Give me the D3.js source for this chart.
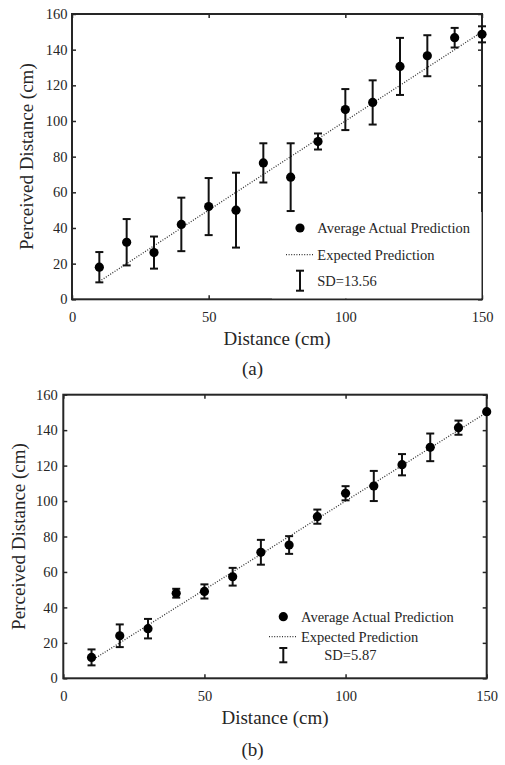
<!DOCTYPE html>
<html>
<head>
<meta charset="utf-8">
<script src="https://cdn.jsdelivr.net/npm/d3@7"></script>
<style>
  html, body { margin: 0; padding: 0; background: #fff; }
</style>
</head>
<body>
<svg id="chart" width="505" height="765"></svg>
<script>
// distances tested (cm)
const distances = [10, 20, 30, 40, 50, 60, 70, 80, 90, 100, 110, 120, 130, 140, 150];

// panel (a)
const meanA = [18, 32, 26.2, 42, 52, 50, 76.5, 68.5, 88.5, 106.4, 110.4, 130.6, 136.6, 146.7, 148.6];
const sdA = [8.5, 13, 9, 15, 16, 21, 11, 19, 4.5, 11.5, 12.4, 16, 11.5, 5.5, 4.5];

// panel (b)
const meanB = [11.8, 24, 28, 48, 49, 57.3, 71.1, 75.2, 91.2, 104.4, 108.5, 120.5, 130.3, 141.4, 150.4];
const sdB = [4.5, 6.4, 5.5, 2.5, 4, 5, 7, 5, 4, 4, 8.5, 6, 7.8, 4, 0];

// expected = perceived equals actual
const expectedX = [10, 150];

const xTicks = [0, 50, 100, 150];
const yTicks = [0, 20, 40, 60, 80, 100, 120, 140, 160];
const legendLabels = ["Average Actual Prediction", "Expected Prediction"];
const sdLabels = ["SD=13.56", "SD=5.87"];
const panelLabels = ["(a)", "(b)"];

const svg = d3.select("#chart");
const ink = "#262626";
const serif = "'Liberation Serif', 'DejaVu Serif', serif";

function txt(sel) {
  return sel.attr("font-family", serif).attr("fill", ink);
}

function drawPanel(opt) {
  const x = d3.scaleLinear().domain([0, 150]).range([opt.left, opt.right]);
  const y = d3.scaleLinear().domain([0, 160]).range([opt.bottom, opt.top]);
  const g = svg.append("g");

  // axes with inward ticks
  const axB = g.append("g").attr("transform", `translate(0,${opt.bottom})`)
    .call(d3.axisBottom(x).tickValues(xTicks).tickSize(-4).tickPadding(12));
  const axT = g.append("g").attr("transform", `translate(0,${opt.top})`)
    .call(d3.axisTop(x).tickValues(xTicks).tickSize(-4).tickFormat(""));
  const axL = g.append("g").attr("transform", `translate(${opt.left},0)`)
    .call(d3.axisLeft(y).tickValues(yTicks).tickSize(-4).tickPadding(opt.yPad));
  const axR = g.append("g").attr("transform", `translate(${opt.right},0)`)
    .call(d3.axisRight(y).tickValues(yTicks).tickSize(-4).tickFormat(""));
  [axB, axT, axL, axR].forEach(a => {
    a.attr("font-family", serif).attr("font-size", 14.5);
    a.select(".domain").remove();
    a.selectAll(".tick line").attr("stroke", ink).attr("stroke-width", 1.5);
    a.selectAll(".tick text").attr("fill", ink);
  });

  // frame
  g.append("rect")
    .attr("x", opt.left).attr("y", opt.top)
    .attr("width", opt.right - opt.left).attr("height", opt.bottom - opt.top)
    .attr("fill", "none").attr("stroke", ink).attr("stroke-width", 2);

  // legend background (covers part of right border, as in the figure)
  if (opt.legendBg) {
    g.append("rect")
      .attr("x", opt.legendBg[0]).attr("y", opt.legendBg[1])
      .attr("width", opt.right - opt.legendBg[0] - 0.5)
      .attr("height", opt.bottom - opt.legendBg[1] - 1)
      .attr("fill", "#fff");
  }

  // expected line
  g.append("line")
    .attr("x1", x(expectedX[0])).attr("y1", y(expectedX[0]))
    .attr("x2", x(expectedX[1])).attr("y2", y(expectedX[1]))
    .attr("stroke", "#333").attr("stroke-width", 1.3)
    .attr("stroke-dasharray", "1,1.6");

  // error bars
  const rows = distances.map((d, i) => ({ d, m: opt.mean[i], s: opt.sd[i] })).filter(r => r.s > 0);
  const cap = 4;
  const eb = g.append("g").attr("stroke", "#111").attr("stroke-width", 2);
  eb.selectAll(".v").data(rows).join("line")
    .attr("x1", r => x(r.d)).attr("x2", r => x(r.d))
    .attr("y1", r => y(r.m - r.s)).attr("y2", r => y(r.m + r.s));
  eb.selectAll(".t").data(rows).join("line")
    .attr("x1", r => x(r.d) - cap).attr("x2", r => x(r.d) + cap)
    .attr("y1", r => y(r.m + r.s)).attr("y2", r => y(r.m + r.s));
  eb.selectAll(".b").data(rows).join("line")
    .attr("x1", r => x(r.d) - cap).attr("x2", r => x(r.d) + cap)
    .attr("y1", r => y(r.m - r.s)).attr("y2", r => y(r.m - r.s));

  // means
  g.selectAll("circle.pt").data(distances).join("circle")
    .attr("cx", d => x(d)).attr("cy", (d, i) => y(opt.mean[i]))
    .attr("r", 4.6).attr("fill", "#000");

  // legend
  const L = opt.legend;
  g.append("circle").attr("cx", L.markX).attr("cy", L.y1).attr("r", 4.6).attr("fill", "#000");
  txt(g.append("text")).attr("x", L.textX).attr("y", L.y1 + 5).attr("font-size", 14.5).text(legendLabels[0]);
  g.append("line")
    .attr("x1", L.lineX[0]).attr("x2", L.lineX[1]).attr("y1", L.y2).attr("y2", L.y2)
    .attr("stroke", "#333").attr("stroke-width", 1.3).attr("stroke-dasharray", "1,1.6");
  txt(g.append("text")).attr("x", L.textX).attr("y", L.y2 + 5).attr("font-size", 14.5).text(legendLabels[1]);
  const sb = g.append("g").attr("stroke", "#111").attr("stroke-width", 2);
  sb.append("line").attr("x1", L.markX).attr("x2", L.markX).attr("y1", L.sd[0]).attr("y2", L.sd[1]);
  sb.append("line").attr("x1", L.markX - cap).attr("x2", L.markX + cap).attr("y1", L.sd[0]).attr("y2", L.sd[0]);
  sb.append("line").attr("x1", L.markX - cap).attr("x2", L.markX + cap).attr("y1", L.sd[1]).attr("y2", L.sd[1]);
  txt(g.append("text")).attr("x", L.sdTextX).attr("y", (L.sd[0] + L.sd[1]) / 2 + 5)
    .attr("font-size", 14.5).text(opt.sdLabel);

  // axis titles
  txt(g.append("text"))
    .attr("x", (opt.left + opt.right) / 2).attr("y", opt.bottom + 45.7)
    .attr("text-anchor", "middle").attr("font-size", 19).text("Distance (cm)");
  txt(g.append("text"))
    .attr("transform", `translate(${opt.yLabelX},${(opt.top + opt.bottom) / 2}) rotate(-90)`)
    .attr("text-anchor", "middle").attr("font-size", 19).text("Perceived Distance (cm)");
  txt(g.append("text"))
    .attr("x", 252.5).attr("y", opt.panelY)
    .attr("text-anchor", "middle").attr("font-size", 19).text(opt.panelLabel);
}

drawPanel({
  left: 72, right: 482, top: 14, bottom: 299.3, yPad: 4.5, yLabelX: 33,
  mean: meanA, sd: sdA, sdLabel: sdLabels[0], panelLabel: panelLabels[0], panelY: 375,
  legendBg: [272, 212],
  legend: { markX: 300, textX: 317.3, y1: 228, y2: 254.7, lineX: [286, 313], sd: [270.7, 290.7], sdTextX: 317.3 }
});

drawPanel({
  left: 63.3, right: 486.7, top: 394.7, bottom: 678.3, yPad: 5.5, yLabelX: 25,
  mean: meanB, sd: sdB, sdLabel: sdLabels[1], panelLabel: panelLabels[1], panelY: 756,
  legendBg: null,
  legend: { markX: 283.3, textX: 301, y1: 616.7, y2: 636.7, lineX: [269, 297], sd: [648, 662.3], sdTextX: 324.3 }
});
</script>
</body>
</html>
